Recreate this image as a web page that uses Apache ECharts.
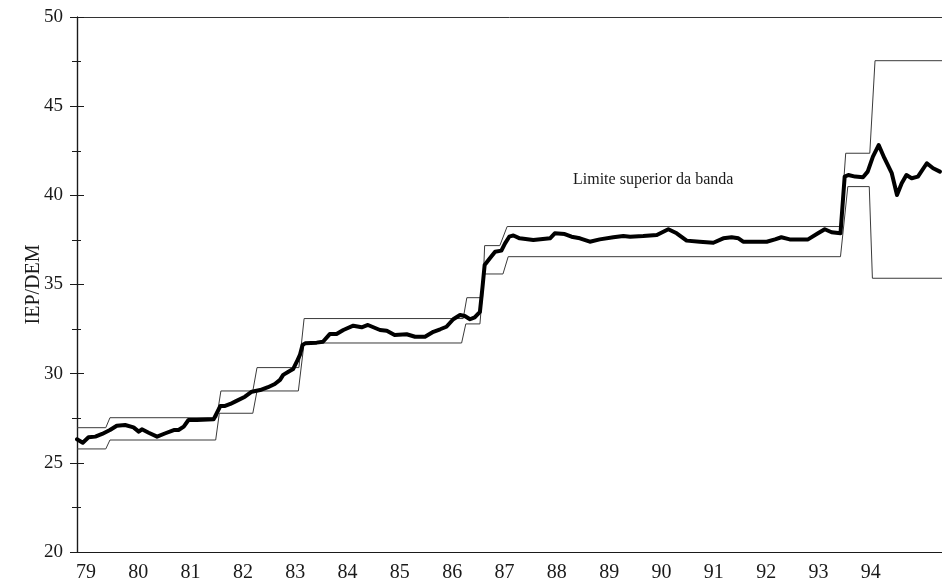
<!DOCTYPE html>
<html>
<head>
<meta charset="utf-8">
<script src="https://cdn.jsdelivr.net/npm/echarts@6/dist/echarts.min.js"></script>
<style>
html,body{margin:0;padding:0;background:#fff;}
#chart{width:942px;height:585px;}
</style>
</head>
<body>
<div id="chart"></div>
<script>
// Tick labels
const yearLabels = [79, 80, 81, 82, 83, 84, 85, 86, 87, 88, 89, 90, 91, 92, 93, 94];
const yTicks = [20, 25, 30, 35, 40, 45, 50];

// Upper band limit (year, IEP/DEM)
const upperX = [78.83, 79.38, 79.46, 81.50, 81.58, 82.19, 82.27, 83.07, 83.17, 86.21, 86.28, 86.58, 86.62, 86.91, 87.05, 93.42, 93.52, 93.98, 94.08, 95.36];
const upperY = [26.97, 26.97, 27.53, 27.53, 29.03, 29.03, 30.34, 30.34, 33.09, 33.09, 34.26, 34.26, 37.18, 37.18, 38.25, 38.25, 42.36, 42.36, 47.55, 47.55];

// Lower band limit
const lowerX = [78.83, 79.38, 79.46, 81.48, 81.55, 82.19, 82.27, 83.06, 83.17, 86.18, 86.26, 86.53, 86.61, 86.97, 87.07, 93.42, 93.56, 93.97, 94.03, 95.36];
const lowerY = [25.78, 25.78, 26.28, 26.28, 27.78, 27.78, 29.03, 29.03, 31.72, 31.72, 32.79, 32.79, 35.59, 35.59, 36.56, 36.56, 40.49, 40.49, 35.35, 35.35];

// IEP/DEM exchange rate
const rateX = [78.83, 78.94, 79.05, 79.18, 79.31, 79.46, 79.59, 79.75, 79.91, 80.01, 80.07, 80.20, 80.36, 80.52, 80.68, 80.77, 80.87, 80.96, 81.12, 81.44,
  81.50, 81.57, 81.66, 81.76, 81.85, 82.04, 82.17, 82.33, 82.48, 82.61, 82.71, 82.77, 82.87, 82.96, 83.03, 83.09, 83.14, 83.19, 83.41, 83.53,
  83.66, 83.79, 83.92, 84.11, 84.27, 84.39, 84.62, 84.75, 84.90, 85.13, 85.29, 85.48, 85.64, 85.77, 85.89, 86.02, 86.15, 86.24, 86.34, 86.43,
  86.53, 86.58, 86.62, 86.72, 86.82, 86.94, 87.01, 87.09, 87.17, 87.29, 87.55, 87.87, 87.96, 88.15, 88.28, 88.44, 88.63, 88.82, 89.08, 89.27,
  89.40, 89.65, 89.91, 90.13, 90.29, 90.48, 90.73, 90.99, 91.18, 91.34, 91.47, 91.56, 92.01, 92.17, 92.29, 92.45, 92.80, 92.99, 93.12, 93.25,
  93.42, 93.50, 93.57, 93.70, 93.85, 93.94, 94.04, 94.15, 94.26, 94.40, 94.50, 94.59, 94.68, 94.78, 94.90, 95.07, 95.19, 95.32];
const rateY = [26.32, 26.13, 26.43, 26.47, 26.62, 26.84, 27.08, 27.12, 26.99, 26.75, 26.88, 26.69, 26.47, 26.66, 26.84, 26.84, 27.03, 27.40, 27.40, 27.44,
  27.78, 28.19, 28.19, 28.30, 28.43, 28.71, 28.99, 29.08, 29.24, 29.42, 29.65, 29.93, 30.11, 30.26, 30.67, 31.05, 31.61, 31.70, 31.74, 31.79,
  32.22, 32.22, 32.45, 32.69, 32.60, 32.73, 32.45, 32.41, 32.17, 32.21, 32.07, 32.07, 32.35, 32.49, 32.63, 33.05, 33.29, 33.23, 33.05, 33.16,
  33.47, 34.88, 36.09, 36.47, 36.84, 36.90, 37.31, 37.68, 37.75, 37.59, 37.50, 37.59, 37.87, 37.83, 37.68, 37.59, 37.40, 37.53, 37.65, 37.72,
  37.68, 37.72, 37.78, 38.10, 37.87, 37.46, 37.40, 37.34, 37.59, 37.65, 37.59, 37.40, 37.40, 37.53, 37.65, 37.53, 37.53, 37.87, 38.10, 37.93,
  37.87, 41.05, 41.14, 41.05, 41.01, 41.33, 42.17, 42.82, 42.08, 41.24, 40.02, 40.68, 41.14, 40.96, 41.05, 41.80, 41.52, 41.33];

const annotation = 'Limite superior da banda';
const yName = 'IEP/DEM';

const zip = (xs, ys) => xs.map((x, i) => [x, ys[i]]);
const serif = '"Liberation Serif", "DejaVu Serif", serif';
const ink = '#1a1a1a';

const chart = echarts.init(document.getElementById('chart'), null, {renderer: 'canvas'});
chart.setOption({
  animation: false,
  backgroundColor: '#ffffff',
  grid: {left: 77, top: 17, right: 0, bottom: 33, containLabel: false},
  xAxis: [{
    type: 'value', min: 78.83, max: 95.36, position: 'bottom',
    axisLine: {show: true, lineStyle: {color: ink, width: 1.2}},
    axisTick: {show: false},
    splitLine: {show: false},
    axisLabel: {customValues: yearLabels, formatter: v => String(v), color: ink, fontFamily: serif, fontSize: 20, margin: 11}
  }, {
    type: 'value', min: 78.83, max: 95.36, position: 'top',
    axisLine: {show: true, onZero: false, lineStyle: {color: '#333', width: 1}},
    axisTick: {show: false}, axisLabel: {show: false}, splitLine: {show: false}
  }],
  yAxis: [{
    type: 'value', min: 20, max: 50, interval: 5, position: 'left',
    name: yName, nameLocation: 'middle', nameGap: 33, nameRotate: 90, nameMoveOverlap: false,
    nameTextStyle: {color: ink, fontFamily: serif, fontSize: 20},
    axisLine: {show: true, lineStyle: {color: ink, width: 1.2}},
    axisTick: {show: true, inside: false, length: 7, lineStyle: {color: ink, width: 1}},
    minorTick: {show: true, splitNumber: 2, length: 5, lineStyle: {color: ink, width: 1}},
    splitLine: {show: false},
    axisLabel: {color: ink, fontFamily: serif, fontSize: 19, margin: 14}
  }, {
    type: 'value', min: 20, max: 50, interval: 5, position: 'left',
    axisLine: {show: true, lineStyle: {color: ink, width: 1.2}},
    axisTick: {show: true, inside: true, length: 7, lineStyle: {color: ink, width: 1}},
    minorTick: {show: true, splitNumber: 2, length: 4, lineStyle: {color: ink, width: 1}},
    splitLine: {show: false}, axisLabel: {show: false}
  }],
  graphic: [{
    type: 'text', left: 573, top: 172,
    style: {text: annotation, fill: ink, font: '16px ' + serif}
  }],
  series: [{
    name: 'upper', type: 'line', data: zip(upperX, upperY), showSymbol: false,
    lineStyle: {color: '#3a3a3a', width: 1}, z: 2
  }, {
    name: 'lower', type: 'line', data: zip(lowerX, lowerY), showSymbol: false,
    lineStyle: {color: '#3a3a3a', width: 1}, z: 2
  }, {
    name: 'IEP/DEM', type: 'line', data: zip(rateX, rateY), showSymbol: false,
    lineStyle: {color: '#000', width: 4, join: 'round', cap: 'round'}, z: 3
  }]
});
</script>
</body>
</html>
